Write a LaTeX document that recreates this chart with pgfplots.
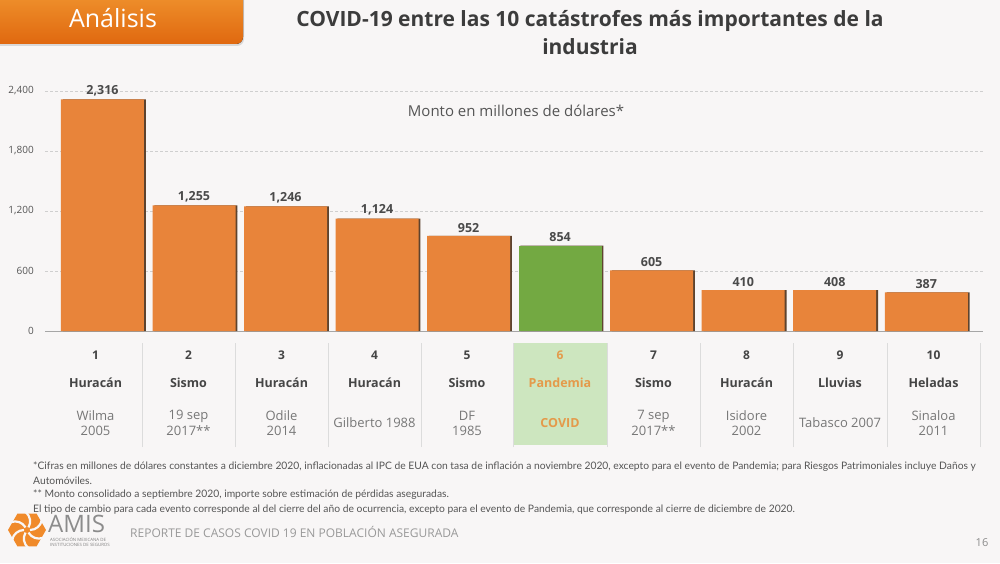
\documentclass[border=0pt]{standalone}
\usepackage{fontspec}
\setmainfont{Open Sans}
\newfontfamily\footfont{Lato}
\usepackage{pgfplots}
\pgfplotsset{compat=1.18}
\usetikzlibrary{shadows}
\definecolor{bg}{HTML}{F8F6F6}
\definecolor{barorange}{HTML}{E8843A}
\definecolor{bargreen}{HTML}{73A942}
\definecolor{shadowc}{HTML}{5E432E}
\definecolor{titlegray}{HTML}{3C3C3C}
\definecolor{valgray}{HTML}{4A4A4A}
\definecolor{tickgray}{HTML}{555555}
\definecolor{gridc}{HTML}{CFCFCF}
\definecolor{descgray}{HTML}{777777}
\definecolor{numgray}{HTML}{454545}
\definecolor{pandtext}{HTML}{E49A4A}
\definecolor{pandbg}{HTML}{CDE6BF}
\definecolor{sepc}{HTML}{DCDCDC}
\definecolor{tabtop}{HTML}{F29A33}
\definecolor{tabbot}{HTML}{E0680F}
\definecolor{logoorange}{HTML}{F08A2A}
\definecolor{footgray}{HTML}{555555}
\newcommand{\fs}[1]{\fontsize{#1}{#1}\selectfont}
\begin{document}
\begin{tikzpicture}
\begin{scope}[x=1pt,y=1pt]
\fill[bg] (0,0) rectangle (1000,563);
% tab
\begin{scope}
\clip (0,0) rectangle (1000,563);
\fill[top color=tabtop, bottom color=tabbot, rounded corners=7pt, drop shadow={opacity=0.25,shadow xshift=1pt,shadow yshift=-2pt}] (-12,519) rectangle (243,580);
\end{scope}
\node[text=white, font=\fs{25}] at (113,545) {Análisis};
% title
\node[text=titlegray, font=\bfseries\fs{21}, align=center, text depth=0pt] at (590,531) {COVID-19 entre las 10 catástrofes más importantes de la\\[7pt] industria};
\end{scope}
\begin{axis}[
  at={(45pt,232pt)}, anchor=south west, scale only axis,
  width=938pt, height=240pt,
  xmin=0.372, xmax=10.62, ymin=0, ymax=2400,
  ytick={0,600,1200,1800,2400}, xtick=\empty,
  ymajorgrids, grid style={gridc, line width=0.6pt, dash pattern=on 3pt off 2pt},
  axis lines*=left, axis line style={-},
  x axis line style={draw=gray!70, line width=0.8pt},
  y axis line style={draw=none},
  major tick length=0pt,
  /pgf/number format/.cd, assume math mode=true, 1000 sep={,},
  /pgfplots/.cd,
  yticklabel style={font=\fs{10}, text=tickgray, inner sep=0pt, xshift=-11pt},
  clip=false,
  nodes near coords style={font=\bfseries\fs{12.5}, text=valgray},
]
\addplot[ybar, bar width=83pt, bar shift=1.8pt, fill=shadowc, draw=none] coordinates {
(1,2316) (2,1255) (3,1246) (4,1124) (5,952) (6,854) (7,605) (8,410) (9,408) (10,387)};
\addplot[ybar, bar width=83pt, bar shift=0pt, fill=barorange, draw=none, nodes near coords] coordinates {
(1,2316) (2,1255) (3,1246) (4,1124) (5,952) (7,605) (8,410) (9,408) (10,387)};
\addplot[ybar, bar width=83pt, bar shift=0pt, fill=bargreen, draw=none, nodes near coords] coordinates {
(6,854)};
\end{axis}
\begin{scope}[x=1pt,y=1pt]
\node[text=tickgray, font=\fs{15}] at (516,452) {Monto en millones de dólares*};
% table
\fill[pandbg] (513,118) rectangle (607,220);
\foreach \x in {142,235,328,421,513,607,700,793,887,980} {
  \draw[sepc, line width=0.8pt] (\x,116) -- (\x,220);
}
\foreach \x/\n/\t in {95.5/1/Huracán, 188.5/2/Sismo, 281.5/3/Huracán, 374.5/4/Huracán, 467/5/Sismo, 653.5/7/Sismo, 746.5/8/Huracán, 840/9/Lluvias, 933.5/10/Heladas} {
  \node[text=numgray, font=\bfseries\fs{12}] at (\x,208) {\n};
  \node[text=numgray, font=\bfseries\fs{12.5}] at (\x,180) {\t};
}
\node[text=pandtext, font=\bfseries\fs{12}] at (560,208) {6};
\node[text=pandtext, font=\bfseries\fs{12.5}] at (560,180) {Pandemia};
\node[text=pandtext, font=\bfseries\fs{12.5}] at (560,140) {COVID};
\foreach \x/\a/\b in {95.5/Wilma/2005, 188.5/19 sep/2017**, 281.5/Odile/2014, 467/DF/1985, 653.5/7 sep/2017**, 746.5/Isidore/2002, 933.5/Sinaloa/2011} {
  \node[text=descgray, font=\fs{13}] at (\x,147) {\a};
  \node[text=descgray, font=\fs{13}] at (\x,132) {\b};
}
\node[text=descgray, font=\fs{13}] at (374.5,140) {Gilberto 1988};
\node[text=descgray, font=\fs{13}] at (840,140) {Tabasco 2007};
% footnotes
\begin{scope}[every node/.style={anchor=west, text=footgray, font=\footfont\fs{10.3}, inner sep=0pt}]
\node at (33,96) {*Cifras en millones de dólares constantes a diciembre 2020, inflacionadas al IPC de EUA con tasa de inflación a noviembre 2020, excepto para el evento de Pandemia; para Riesgos Patrimoniales incluye Daños y};
\node at (33,82) {Automóviles.};
\node at (33,68) {** Monto consolidado a septiembre 2020, importe sobre estimación de pérdidas aseguradas.};
\node at (33,53) {El tipo de cambio para cada evento corresponde al del cierre del año de ocurrencia, excepto para el evento de Pandemia, que corresponde al cierre de diciembre de 2020.};
\end{scope}
% logo
\fill[logoorange] (27,33) +(0:19) -- +(60:19) -- +(120:19) -- +(180:19) -- +(240:19) -- +(300:19) -- cycle;
\foreach \a in {0,60,...,300} {
  \draw[bg, line width=2.2pt] (27,33) ++(\a:3) arc[start angle=\a-90, end angle=\a-10, radius=12];
}
\node[anchor=west, text=gray!90, font=\fs{24}, inner sep=0pt] at (48,39) {AMIS};
\node[anchor=west, text=gray, font=\fs{4.4}, inner sep=0pt] at (50,24) {ASOCIACIÓN MEXICANA DE};
\node[anchor=west, text=gray, font=\fs{4.4}, inner sep=0pt] at (50,18) {INSTITUCIONES DE SEGUROS};
\node[anchor=west, text=gray!80, font=\fs{12}, inner sep=0pt] at (130,31) {REPORTE DE CASOS COVID 19 EN POBLACIÓN ASEGURADA};
\node[text=gray!90, font=\fs{11}] at (982,20) {16};
\end{scope}
\end{tikzpicture}
\end{document}
